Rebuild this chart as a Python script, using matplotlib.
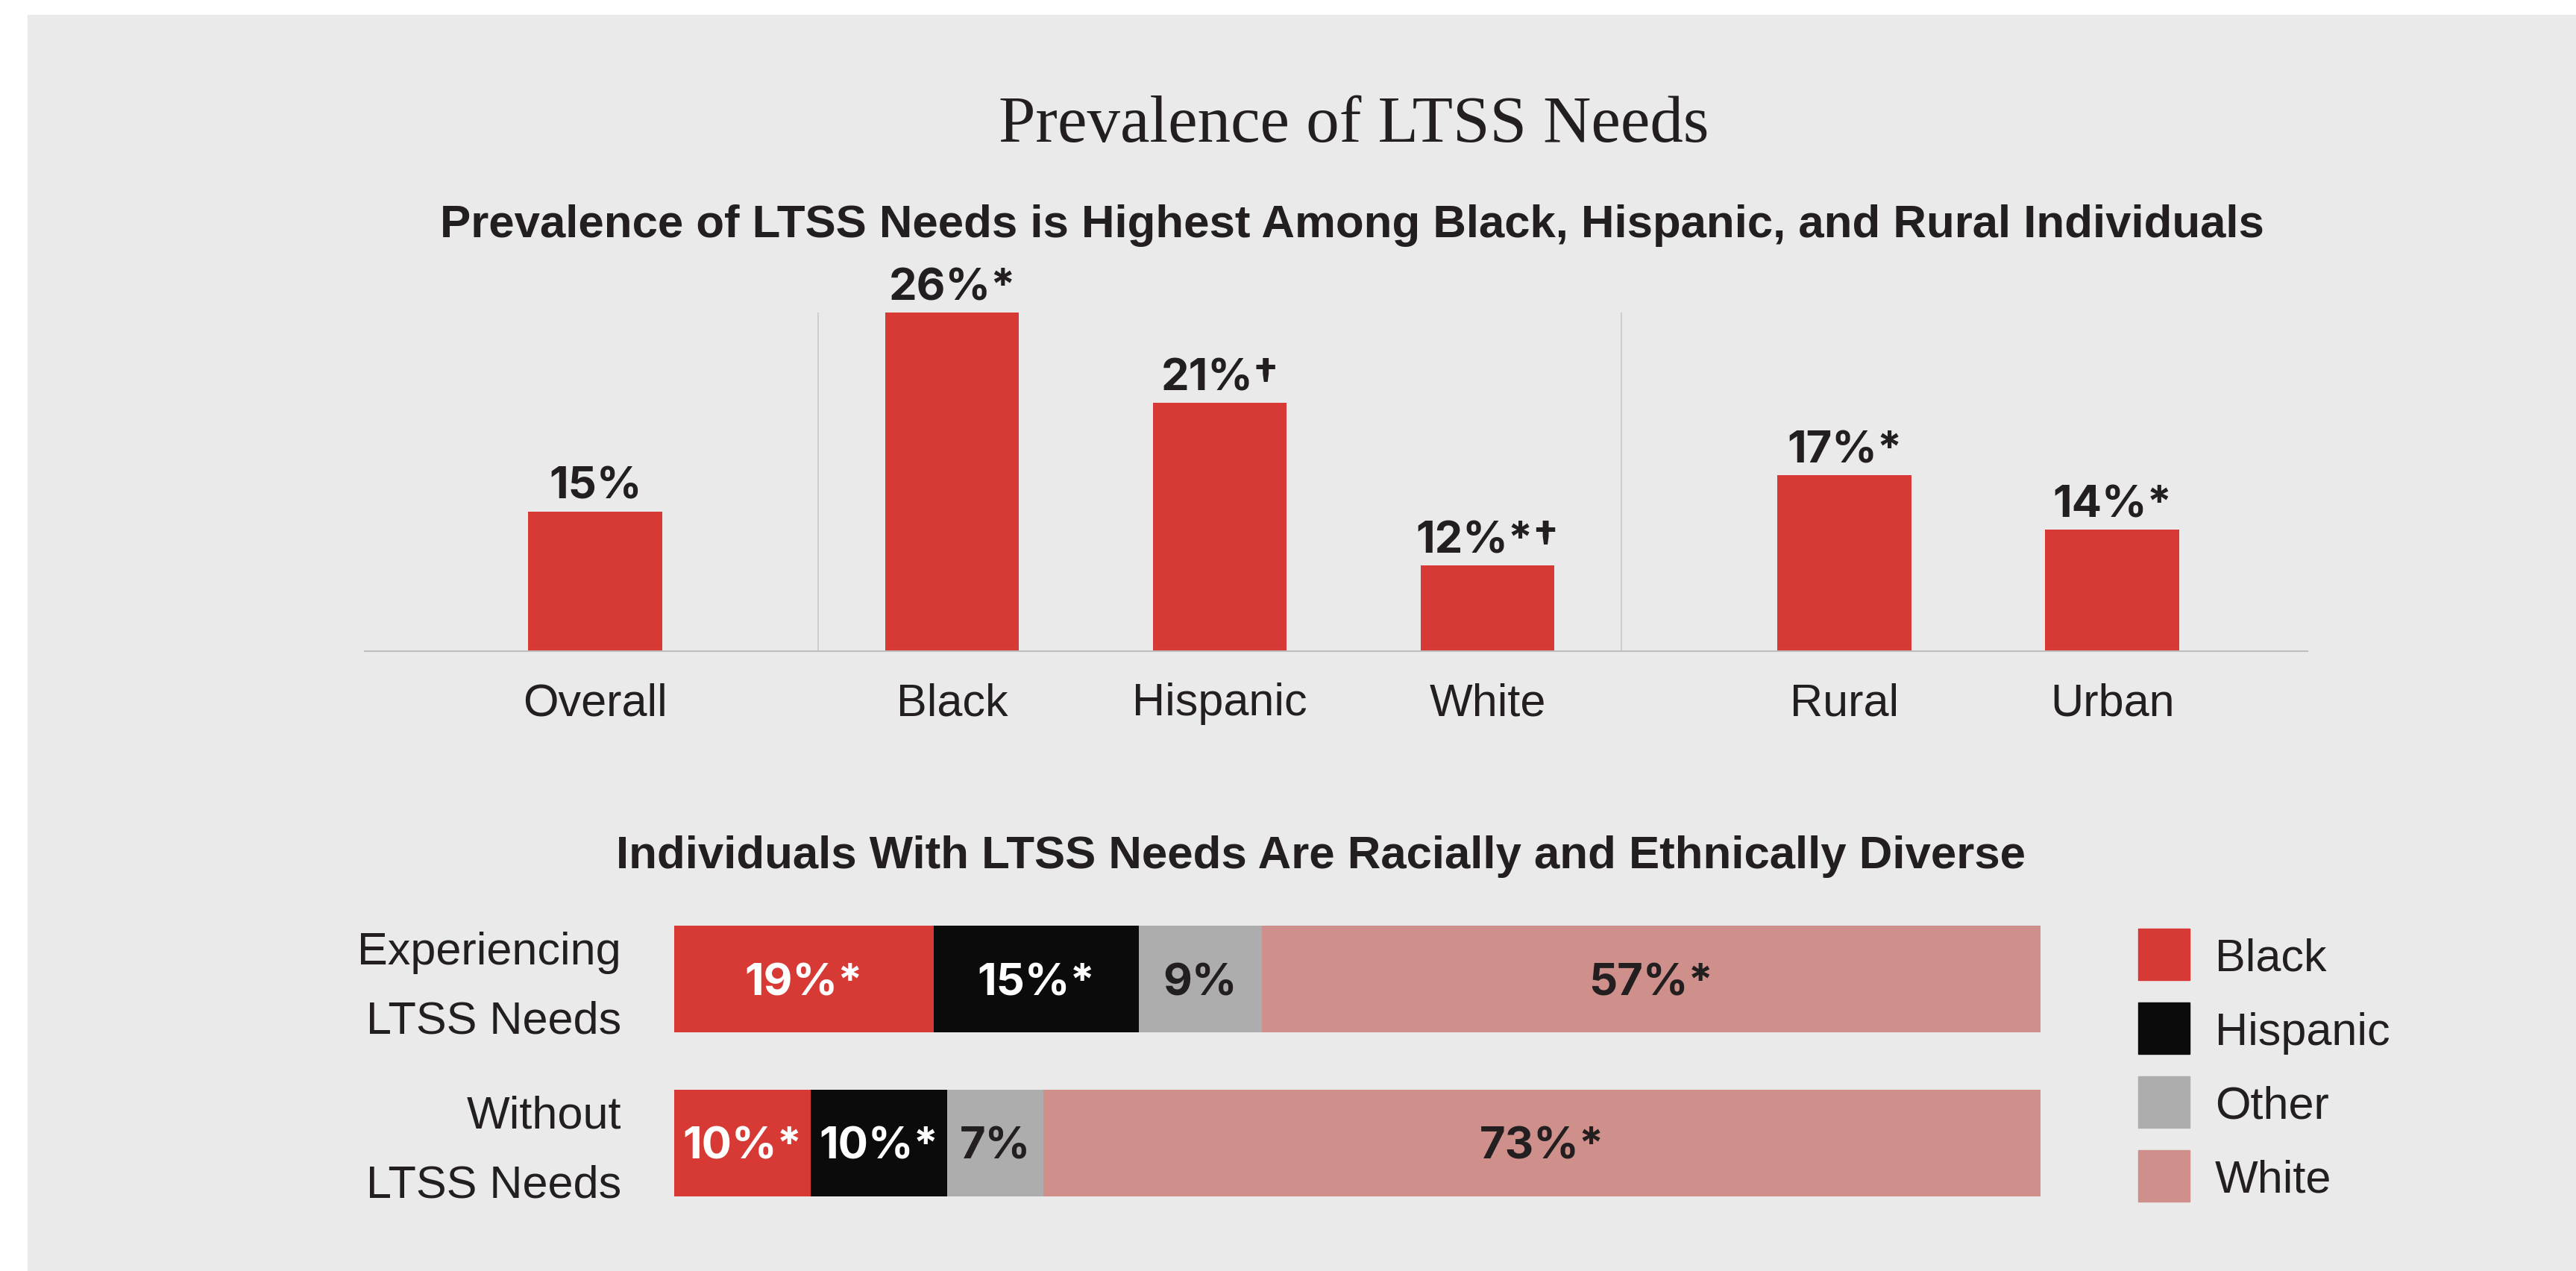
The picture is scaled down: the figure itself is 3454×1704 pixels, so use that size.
import numpy as np
import matplotlib
matplotlib.use('Agg')
import matplotlib.pyplot as plt
from matplotlib.patches import Rectangle

# prevalence of LTSS needs by group
categories = ['Overall', 'Black', 'Hispanic', 'White', 'Rural', 'Urban']
prevalence = [15, 26, 21, 12, 17, 14]
prevalence_marks = ['', '*', '\u2020', '*\u2020', '*', '*']

# racial / ethnic composition, with and without LTSS needs
races = ['Black', 'Hispanic', 'Other', 'White']
share_with = [19, 15, 9, 57]
marks_with = ['*', '*', '', '*']
share_without = [10, 10, 7, 73]
marks_without = ['*', '*', '', '*']
row_labels = [['Experiencing', 'LTSS Needs'], ['Without', 'LTSS Needs']]

W, H = 3455, 1704
BG = '#EAEAEA'
TXT = '#231F20'
race_colors = ['#D73A35', '#0B0B0B', '#ADADAD', '#CF908B']
label_colors = ['white', 'white', TXT, TXT]
SANS = 'Liberation Sans'
NUM = ['Inter', 'Liberation Sans']
FS = 44
NFS = 43


def rect(x0, y0, x1, y1):
    # pixel box (top-left origin) -> figure fraction
    return [x0 / W, 1 - y1 / H, (x1 - x0) / W, (y1 - y0) / H]


fig = plt.figure(figsize=(W / 100, H / 100), dpi=100, facecolor='white')
fig.patches.append(Rectangle((37 / W, 0), 1 - 37 / W, 1 - 20 / H,
                             transform=fig.transFigure, color=BG, zorder=-10))

fig.text(1815 / W, 1 - 190 / H, 'Prevalence of LTSS Needs', ha='center', va='baseline',
         family='Liberation Serif', fontsize=64, color=TXT)
fig.text(1813 / W, 1 - 318 / H,
         'Prevalence of LTSS Needs is Highest Among Black, Hispanic, and Rural Individuals',
         ha='center', va='baseline', family=SANS, fontweight='bold', fontsize=44.5, color=TXT)
fig.text(1771 / W, 1 - 1164 / H,
         'Individuals With LTSS Needs Are Racially and Ethnically Diverse',
         ha='center', va='baseline', family=SANS, fontweight='bold', fontsize=44.5, color=TXT)

# --- top: prevalence bars ---
ax1 = fig.add_axes(rect(489, 380, 3094, 873))
ax1.set_facecolor('none')
xpos = np.array([0, 4, 7, 10, 14, 17]) / 3
ymin = 7.26
ax1.set_xlim(-0.861, 6.396)
ax1.set_ylim(ymin, ymin + 493 / 24.22)
ax1.bar(xpos, prevalence, width=0.5, color=race_colors[0], zorder=2)
ax1.vlines([5 / 6, 23 / 6], ymin, max(prevalence), color='#C9C9C9', lw=1.2, zorder=1)
for s in ['top', 'left', 'right']:
    ax1.spines[s].set_visible(False)
ax1.spines['bottom'].set_color('#BDBDBD')
ax1.spines['bottom'].set_linewidth(1.5)
ax1.set_xticks([])
ax1.set_yticks([])
for x, v, m, c in zip(xpos, prevalence, prevalence_marks, categories):
    ax1.annotate(f'{v}%{m}', (x, v), xytext=(0, 12), textcoords='offset points',
                 ha='center', va='baseline', family=NUM, fontweight='bold',
                 fontsize=NFS, color=TXT)
    ax1.annotate(c, (x, 0), xycoords=ax1.get_xaxis_transform(), xytext=(0, -62),
                 textcoords='offset points', ha='center', va='baseline',
                 family=SANS, fontsize=FS, color=TXT)

# --- bottom: stacked composition bars ---
ax2 = fig.add_axes(rect(904, 1241, 2736, 1604))
ax2.set_facecolor('none')
ax2.set_xlim(0, 100)
ax2.set_ylim(1.3265, -0.3265)
ax2.axis('off')
rows = [(share_with, marks_with), (share_without, marks_without)]
for r, (shares, marks) in enumerate(rows):
    left = 0
    for i, (v, m) in enumerate(zip(shares, marks)):
        ax2.barh(r, v, left=left, height=0.653, color=race_colors[i])
        ax2.annotate(f'{v}%{m}', (left + v / 2, r), xytext=(0, -15.5),
                     textcoords='offset points', ha='center', va='baseline',
                     family=NUM, fontweight='bold', fontsize=NFS, color=label_colors[i])
        left += v
    ax2.annotate(row_labels[r][0], (0, r), xytext=(-51, 14.5), textcoords='offset points',
                 ha='right', va='baseline', family=SANS, fontsize=FS, color=TXT)
    ax2.annotate(row_labels[r][1], (0, r), xytext=(-51, -52.5), textcoords='offset points',
                 ha='right', va='baseline', family=SANS, fontsize=FS, color=TXT)

# --- legend ---
axl = fig.add_axes(rect(2850, 1230, 3400, 1630))
axl.set_xlim(2850, 3400)
axl.set_ylim(1630, 1230)
axl.axis('off')
for i, name in enumerate(races):
    top = 1245 + 99 * i
    axl.add_patch(Rectangle((2867, top), 69, 69, color=race_colors[i]))
    axl.text(2970, top + 34.5 + 22, name, ha='left', va='baseline',
             family=SANS, fontsize=FS, color=TXT)

fig.savefig('out.png', dpi=100, facecolor='white')
